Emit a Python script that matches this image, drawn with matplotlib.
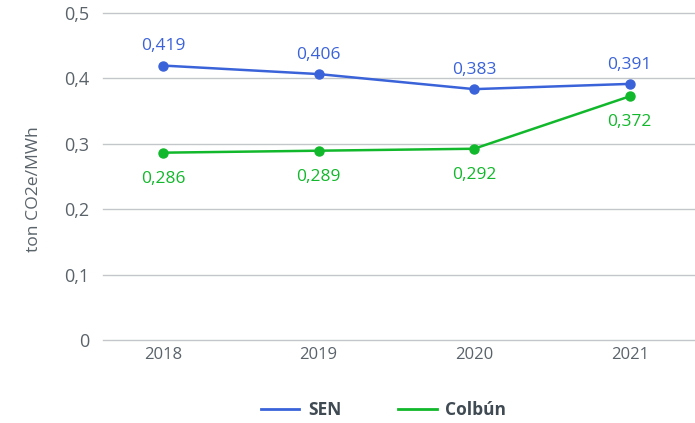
import matplotlib
matplotlib.use("Agg")
import matplotlib.pyplot as plt
from matplotlib.lines import Line2D

years = ["2018", "2019", "2020", "2021"]
sen = [0.419, 0.406, 0.383, 0.391]
colbun = [0.286, 0.289, 0.292, 0.372]
yticks = [0, 0.1, 0.2, 0.3, 0.4, 0.5]
ytick_labels = ["0", "0,1", "0,2", "0,3", "0,4", "0,5"]

BLUE = "#3b63d9"
GREEN = "#12b82b"
GRAY = "#5a636a"
plt.rcParams['font.family'] = ['Open Sans', 'DejaVu Sans']

fig = plt.figure(figsize=(6.95, 4.23), dpi=100)
ax = fig.add_axes([103/695, (423-340)/423, 1-103/695, (340-12.5)/423])
x = list(range(len(years)))
ax.plot(x, sen, color=BLUE, lw=1.8, marker="o", ms=6.5, zorder=3)
ax.plot(x, colbun, color=GREEN, lw=1.8, marker="o", ms=6.5, zorder=3)
for xi, v in zip(x, sen):
    ax.annotate(f"{v:.3f}".replace(".", ","), (xi, v), xytext=(0, 11), textcoords="offset points",
                ha="center", va="baseline", color=BLUE, fontsize=12.5)
for xi, v in zip(x, colbun):
    ax.annotate(f"{v:.3f}".replace(".", ","), (xi, v), xytext=(0, -21.5), textcoords="offset points",
                ha="center", va="baseline", color=GREEN, fontsize=12.5)

ax.set_xlim(-0.386, 3.42)
ax.set_ylim(0, 0.5)
ax.set_yticks(yticks)
ax.set_yticklabels(ytick_labels)
ax.set_xticks(x)
ax.set_xticklabels(years)
ax.grid(axis="y", color="#c4c7c9", lw=1)
for gl in ax.yaxis.get_gridlines():
    gl.set_clip_on(False)
ax.set_axisbelow(True)
for s in ax.spines.values():
    s.set_visible(False)
ax.tick_params(axis="both", length=0, colors=GRAY)
ax.tick_params(axis="y", pad=10, labelsize=13)
ax.tick_params(axis="x", pad=5, labelsize=12)
ax.set_ylabel("ton CO2e/MWh", color=GRAY, fontsize=12.6, va="center")
ax.yaxis.set_label_coords((34 - 103) / 592, (340 - 189) / 327.5)

handles = [Line2D([0], [0], color=BLUE, lw=2), Line2D([0], [0], color=GREEN, lw=2)]
leg = fig.legend(handles, ["SEN", "Colbún"], loc="center", bbox_to_anchor=(0.552, 1-410/423),
                 ncol=2, frameon=False, handlelength=2.2, handletextpad=0.5, columnspacing=3.3,
                 prop={"weight": "bold", "size": 12.5})
for t in leg.get_texts():
    t.set_color("#3f4a52")
fig.savefig("out.png", dpi=100)
